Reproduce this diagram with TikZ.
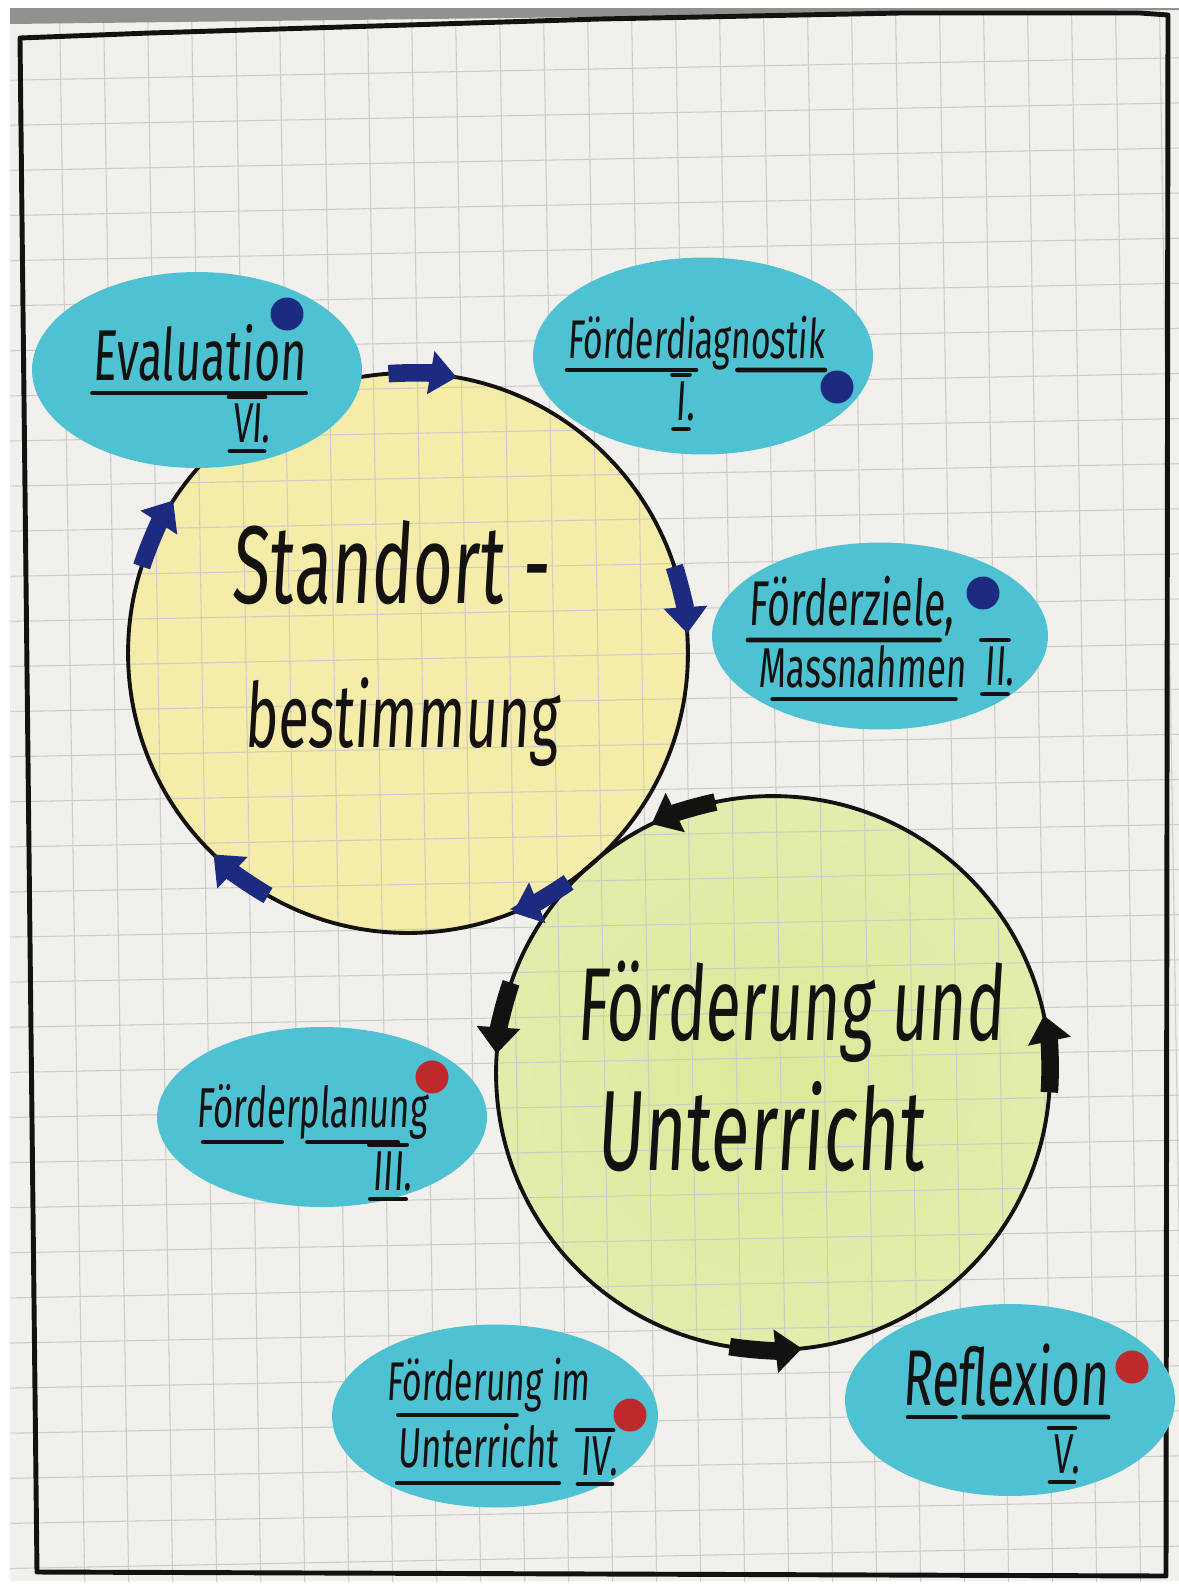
\documentclass[tikz,border=0pt]{standalone}
\usepackage{fontspec}
\newfontfamily\hand[FakeStretch=0.62,FakeSlant=0.06]{Fira Sans}
\usetikzlibrary{shapes.geometric,arrows.meta,calc}
\definecolor{paperc}{HTML}{F2F0EC}
\definecolor{gridc}{HTML}{CFCCC7}
\definecolor{wallc}{HTML}{8F938B}
\definecolor{ink}{HTML}{141111}
\definecolor{ovalc}{HTML}{4EC2D2}
\definecolor{navy}{HTML}{1C2A80}
\definecolor{dotred}{HTML}{BE2A2C}
\definecolor{ycol}{HTML}{F4ECA8}
\definecolor{yedge}{HTML}{F5F0C8}
\definecolor{gcol}{HTML}{DEE999}
\definecolor{gmid}{HTML}{E4ECAC}
\definecolor{gedge}{HTML}{EFF2DA}
\pgfdeclareradialshading{yshade}{\pgfpoint{0bp}{0bp}}{color(0bp)=(ycol); color(36bp)=(ycol); color(50bp)=(yedge)}
\pgfdeclareradialshading{gshade}{\pgfpoint{0bp}{0bp}}{color(0bp)=(gcol); color(26bp)=(gmid); color(40bp)=(gedge); color(50bp)=(paperc)}
\newcommand\hsz[1]{\hand\fontsize{#1}{#1}\selectfont}
\tikzset{
  ring/.style={circle, draw=ink, line width=2.2pt, inner sep=0pt},
  oval/.style={ellipse, fill=ovalc, inner sep=0pt},
  dotb/.style={circle, fill=navy, minimum size=0.66cm, inner sep=0pt},
  dotr/.style={circle, fill=dotred, minimum size=0.66cm, inner sep=0pt},
  txt/.style={text=ink, inner sep=0pt, anchor=base},
  bar/.style={draw=ink, line width=2.6pt, line cap=round},
  arrB/.style={draw=navy, line width=10pt, -{Triangle[length=15pt,width=24pt]}},
  arrK/.style={draw=ink, line width=10pt, -{Triangle[length=15pt,width=24pt]}},
  gridl/.style={draw=gridc, line width=0.6pt},
  frame/.style={draw=ink, line width=2.8pt, line join=round}
}
\newcommand\ulpart[4]{\draw[bar] ($(#1.base west)!#3!(#1.base east)+(0,#2)$) -- ($(#1.base west)!#4!(#1.base east)+(0,#2)$);}
\newcommand\romnum[5]{%
  \node[txt, font=\hsz{#4}] (#1) at (#2,#3) {#5\rlap{.}};
  \draw[bar] ($(#1.north west)+(-3,-6)$) -- ($(#1.north east)+(3,-6)$);
  \draw[bar] ($(#1.base west)+(-2,9)$) -- ($(#1.base east)+(2,9)$);
}
\begin{document}
\begin{tikzpicture}[x=0.02cm,y=-0.02cm]
\useasboundingbox (0,0) rectangle (1179,1590);
\fill[white] (0,0) rectangle (1179,1590);
\fill[paperc] (10,8) rectangle (1179,1581);
% colour washes
\shade[shading=yshade] (408,653) circle[radius=280];
\shade[shading=gshade] (773,1073) circle[radius=277];
% grid
\begin{scope}
  \clip (10,8) rectangle (1179,1581);
  \foreach \i in {0,...,25} { \draw[gridl] ({59.4+44*\i},0) -- ({84.8+44*\i},1590); }
  \foreach \j in {0,...,33} { \draw[gridl] (0,{80.4+45.1*\j}) -- (1179,{57.8+45.1*\j}); }
\end{scope}
\fill[wallc] (10,8) -- (1179,8) -- (1179,10) -- (10,24) -- cycle;
% frame
\draw[frame] (20,38) -- (150,33) -- (375,26) -- (600,19) -- (900,13) -- (1140,13) -- (1168,15) -- (1166,1576) -- (37,1572) -- cycle;
% circles
\node[ring, minimum size=11.2cm] (Y) at (408,653) {};
\node[ring, minimum size=11.08cm] (G) at (773,1073) {};
% arrows on the yellow circle (clockwise)
\draw[arrB] ([shift={(-94:280)}]Y.center) arc[start angle=-94, end angle=-80, radius=280];
\draw[arrB] ([shift={(-18:280)}]Y.center) arc[start angle=-18, end angle=-4, radius=280];
\draw[arrB] ([shift={(55:280)}]Y.center) arc[start angle=55, end angle=68, radius=280];
\draw[arrB] ([shift={(120:280)}]Y.center) arc[start angle=120, end angle=134, radius=280];
\draw[arrB] ([shift={(198:280)}]Y.center) arc[start angle=198, end angle=213, radius=280];
% arrows on the green circle (counter-clockwise)
\draw[arrK] ([shift={(258:277)}]G.center) arc[start angle=258, end angle=244, radius=277];
\draw[arrK] ([shift={(199:277)}]G.center) arc[start angle=199, end angle=184, radius=277];
\draw[arrK] ([shift={(99:277)}]G.center) arc[start angle=99, end angle=84, radius=277];
\draw[arrK] ([shift={(4:277)}]G.center) arc[start angle=4, end angle=-12, radius=277];
% ovals
\node[oval, minimum width=6.6cm, minimum height=3.92cm] (ev) at (197,370) {};
\node[oval, minimum width=6.8cm, minimum height=3.94cm] (fd) at (703,356) {};
\node[oval, minimum width=6.72cm, minimum height=3.74cm] (fz) at (880,636) {};
\node[oval, minimum width=6.6cm, minimum height=3.6cm] (fp) at (322,1117) {};
\node[oval, minimum width=6.52cm, minimum height=3.66cm] (fu) at (495,1416) {};
\node[oval, minimum width=6.6cm, minimum height=3.84cm] (rf) at (1010,1400) {};
% dots
\node[dotb] (evd) at (287,314) {};
\node[dotb] (fdd) at (837,387) {};
\node[dotb] (fzd) at (983,593) {};
\node[dotr] (fpd) at (432,1077) {};
\node[dotr] (fud) at (630,1415) {};
\node[dotr] (rfd) at (1132,1367) {};
% big labels
\node[txt, font=\hsz{63}] (sb1) at (390,603) {Standort -};
\node[txt, font=\hsz{51}] (sb2) at (401,747) {bestimmung};
\node[txt, font=\hsz{59}] (fu1) at (790,1040) {Förderung und};
\node[txt, font=\hsz{65}] (fu2) at (760,1170) {Unterricht};
% oval labels
\node[txt, font=\hsz{41}] (evT) at (199,380) {Evaluation};
\ulpart{evT}{13}{0}{1}
\romnum{evN}{247}{442}{32}{VI}
\node[txt, font=\hsz{31}] (fdT) at (696,358) {Förderdiagnostik};
\ulpart{fdT}{12}{0}{0.5}
\ulpart{fdT}{12}{0.66}{1}
\romnum{fdN}{681}{420}{32}{I}
\node[txt, font=\hsz{36}] (fzT1) at (851,625) {Förderziele,};
\ulpart{fzT1}{15}{0}{0.93}
\node[txt, font=\hsz{32}] (fzT2) at (862,687) {Massnahmen};
\ulpart{fzT2}{12}{0.07}{0.95}
\romnum{fzN}{995}{685}{32}{II}
\node[txt, font=\hsz{32}] (fpT) at (312,1127) {Förderplanung};
\ulpart{fpT}{15}{0.03}{0.37}
\ulpart{fpT}{15}{0.48}{0.87}
\romnum{fpN}{388}{1190}{32}{III}
\node[txt, font=\hsz{31}] (fuT1) at (488,1400) {Förderung im};
\ulpart{fuT1}{15}{0.06}{0.64}
\node[txt, font=\hsz{32}] (fuT2) at (478,1467) {Unterricht};
\ulpart{fuT2}{16}{0}{1}
\romnum{fuN}{595}{1475}{32}{IV}
\node[txt, font=\hsz{45}] (rfT) at (1005,1405) {Reflexion};
\ulpart{rfT}{12}{0.03}{0.26}
\ulpart{rfT}{12}{0.30}{1}
\romnum{rfN}{1062}{1473}{32}{V}
\end{tikzpicture}
\end{document}
